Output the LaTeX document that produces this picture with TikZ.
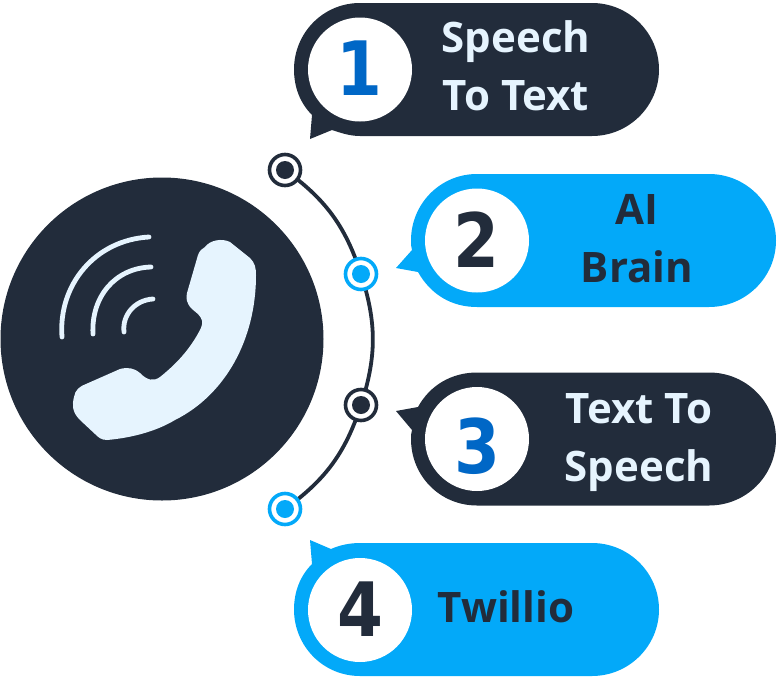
\documentclass[tikz,border=0pt]{standalone}
\usepackage{fontspec}
\setmainfont{DejaVu Sans}
\newfontfamily\capfont{Open Sans}
\usetikzlibrary{backgrounds}
\definecolor{navy}{HTML}{222C3B}
\definecolor{sky}{HTML}{03A9F9}
\definecolor{pale}{HTML}{E6F4FE}
\definecolor{numblue}{HTML}{0067C6}
\tikzset{
  x=1pt,y=-1pt,
  numdisc/.style={circle,fill=white,minimum size=104pt,inner sep=0pt},
  numlabel/.style={inner sep=0pt,xscale=0.88,font=\bfseries\fontsize{75}{75}\selectfont},
  captext/.style={align=center,font=\capfont\bfseries\fontsize{42}{58}\selectfont,inner sep=0pt},
  ringdot/.style={circle,draw=#1,fill=white,line width=3.6pt,minimum size=31pt,inner sep=0pt,
    path picture={\fill[#1] (path picture bounding box.center) circle[radius=9pt];}},
  wave/.style={draw=pale,line width=4.8pt,line cap=round},
  link/.style={draw=navy,line width=3.8pt}
}
\begin{document}
\begin{tikzpicture}
\useasboundingbox (0,0) rectangle (780,678);
% main disc
\fill[navy] (162,339) circle[radius=161.5pt];
% handset
\fill[pale] (205,247)
  .. controls (210,240) and (222,238) .. (230,242)
  -- (250,258) .. controls (255,263) and (256,268) .. (256,275)
  .. controls (256,340) and (225,395) .. (175,420)
  .. controls (155,432) and (130,438) .. (107,440)
  .. controls (101,440) and (98,437) .. (95,434)
  -- (80,420) .. controls (72,412) and (72,405) .. (74,397)
  .. controls (75,390) and (80,386) .. (86,384)
  -- (120,369) .. controls (128,367) and (134,368) .. (140,373)
  .. controls (147,380) and (153,382) .. (160,377)
  .. controls (175,365) and (190,350) .. (201,328)
  .. controls (203,322) and (203,320) .. (198,314)
  -- (192,309) .. controls (186,303) and (186,298) .. (187,293)
  -- (198,255) .. controls (200,250) and (202,249) .. (205,247) -- cycle;
% signal arcs
\draw[wave] (62,337) .. controls (58,285) and (95,240) .. (149,237);
\draw[wave] (93,334) .. controls (91,297) and (115,268) .. (151,267);
\draw[wave] (124,332) .. controls (122,315) and (135,300) .. (153,299);
% bubbles
\fill[navy] (360,3) -- (592,3) .. controls (629,3) and (659,33) .. (659,69.5) .. controls (659,106) and (629,136) .. (592,136) -- (360,136)
  .. controls (350,136) and (341,133) .. (332,130) -- (310,139) -- (312,115)
  .. controls (300,103) and (294,87) .. (294,69.5) .. controls (294,33) and (323,3) .. (360,3) -- cycle;
\fill[sky] (477,174) -- (709,174) .. controls (746,174) and (776,204) .. (776,240.5) .. controls (776,277) and (746,307) .. (709,307) -- (477,307)
  .. controls (452,307) and (431,295) .. (418,272) -- (396,268) -- (412,250)
  .. controls (411,247) and (411,244) .. (411,240.5)
  .. controls (411,204) and (440,174) .. (477,174) -- cycle;
\fill[navy] (477,372.5) -- (709,372.5) .. controls (746,372.5) and (776,402) .. (776,439) .. controls (776,476) and (746,505.5) .. (709,505.5) -- (477,505.5)
  .. controls (440,505.5) and (411,476) .. (411,439)
  .. controls (411,436) and (411,433) .. (412,430) -- (396,411) -- (418,407)
  .. controls (430,385) and (452,372.5) .. (477,372.5) -- cycle;
\fill[sky] (360,543) -- (592,543) .. controls (629,543) and (659,573) .. (659,609.5) .. controls (659,646) and (629,676) .. (592,676) -- (360,676)
  .. controls (323,676) and (294,646) .. (294,609.5)
  .. controls (294,592) and (300,576) .. (312,564) -- (310,540) -- (331,549)
  .. controls (340,545) and (350,543) .. (360,543) -- cycle;
% number discs
\node[numdisc] (d1) at (360,69.5) {};
\node[numdisc] (d2) at (477,240.5) {};
\node[numdisc] (d3) at (477,439) {};
\node[numdisc] (d4) at (360,610) {};
\node[numlabel,text=numblue] (l1) at (359,68) {1};
\node[numlabel,text=navy] (l2) at (476,240) {2};
\node[numlabel,text=numblue] (l3) at (477,446) {3};
\node[numlabel,text=navy] (l4) at (360,609) {4};
% captions
\node[captext,text=pale] (t1) at (516,66) {Speech\\To Text};
\node[captext,text=navy] (t2) at (637,239) {AI\\Brain};
\node[captext,text=pale] (t3) at (639,438) [yshift=-5pt] {Text To\\Speech};
\node[captext,text=navy] (t4) at (506,607) {Twillio};
% timeline
\node[ringdot=navy] (n1) at (285,170) {};
\node[ringdot=sky] (n2) at (361,274) {};
\node[ringdot=navy] (n3) at (361,405) {};
\node[ringdot=sky] (n4) at (285,509) {};
\begin{scope}[on background layer]
\draw[link] (n1.center) to[bend left=18] (n2.center);
\draw[link] (n2.center) to[bend left=18] (n3.center);
\draw[link] (n3.center) to[bend left=18] (n4.center);
\end{scope}
\end{tikzpicture}
\end{document}
